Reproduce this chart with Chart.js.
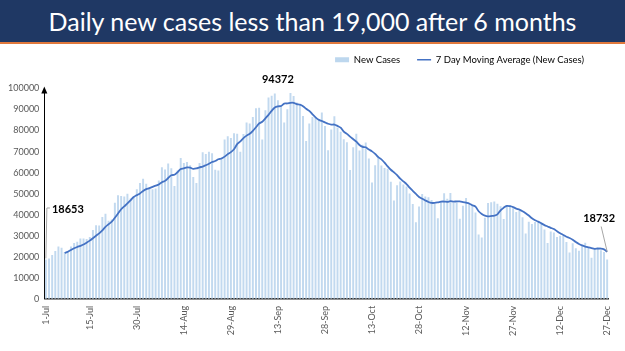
<!DOCTYPE html>
<html>
<head>
<meta charset="utf-8">
<script src="https://cdn.jsdelivr.net/npm/chart.js@4.4.1/dist/chart.umd.min.js"></script>
<style>
  html, body { margin: 0; padding: 0; background: #fff; }
  body { width: 625px; height: 351px; overflow: hidden; font-family: Lato, sans-serif; }
  .banner {
    height: 42px; line-height: 42px; background: #1f3864; color: #fff;
    border-bottom: 2px solid #e0783c; text-align: center; font-size: 25px;
  }
  .chart-box { position: relative; width: 625px; height: 307px; }
</style>
</head>
<body>
<div class="banner">Daily new cases less than 19,000 after 6 months</div>
<div class="chart-box"><canvas id="casesChart"></canvas></div>
<script>
// months on the x axis (1-Jul .. 27-Dec)
var monthNames = ['Jul', 'Aug', 'Sep', 'Oct', 'Nov', 'Dec'];
var monthDays = [31, 31, 30, 31, 30, 27];

// only these dates get a label on the axis
var tickLabels = ['1-Jul', '15-Jul', '30-Jul', '14-Aug', '29-Aug', '13-Sep', '28-Sep',
                  '13-Oct', '28-Oct', '12-Nov', '27-Nov', '12-Dec', '27-Dec'];

// daily new cases, one value per day
var newCases = [
  // Jul
  18653, 19148, 20903, 22771, 24850, 24248, 22252, 22752, 24879, 26506, 27114, 28637, 28701, 28498, 29429, 32695,
  34956, 34884, 38902, 40425, 37148, 37724, 45720, 49310, 48916, 48661, 49931, 47703, 48513, 52123, 55078,
  // Aug
  57118, 54735, 52972, 52050, 52509, 56282, 62538, 61537, 64399, 62064, 53601, 60963, 66999, 64553, 65002, 63490,
  57981, 55079, 64531, 69652, 68898, 69878, 69239, 61408, 60975, 67151, 75760, 77266, 76472, 78761, 78512,
  // Sep
  69921, 78357, 83883, 83341, 86432, 90632, 90802, 75809, 89706, 95735, 96551, 97570, 94372, 92071, 83809,
  90123, 97894, 96424, 93337, 92605, 86961, 75083, 83347, 86508, 86052, 85362, 88600, 82170, 70589, 80472,
  // Oct
  86821, 81484, 79476, 75829, 74442, 61267, 72049, 78524, 70496, 73272, 74383, 66732, 55342, 63509, 67708, 63371,
  62212, 61871, 55722, 46790, 54044, 55838, 54366, 53370, 50129, 45148, 36470, 43893, 49881, 48648, 48268,
  // Nov
  46963, 45231, 38310, 46253, 50210, 47638, 50357, 45674, 45903, 38073, 44281, 47905, 44878, 44684, 41100,
  30548, 29164, 38617, 45576, 45882, 46232, 45209, 44059, 37975, 44376, 44489, 43082, 41322, 41810, 38772,
  // Dec
  31118, 36604, 35551, 36595, 36652, 36011, 32981, 26567, 32080, 31521, 29398, 30006, 30254, 27071, 22065,
  26382, 24010, 22890, 25152, 26624, 24337, 19556, 23950, 24712, 23068, 22273, 18732
];

// y axis ticks
var yTicks = [0, 10000, 20000, 30000, 40000, 50000, 60000, 70000, 80000, 90000, 100000];

// data callouts (label text + where it sits relative to the bar)
var callouts = [
  { index: 0, text: '18653', align: 'left', dx: 6, labelAt: 42600, leader: [[0, 19200], [1, 43200], [4, 43200]] },
  { index: 74, text: '94372', align: 'center', dx: 0, labelAt: 104300 },
  { index: 179, text: '18732', align: 'center', dx: -8, labelAt: 38400, leader: [[-6, 34400], [0, 22400]] }
];

var dateLabels = [];
monthNames.forEach(function (m, i) {
  for (var d = 1; d <= monthDays[i]; d++) dateLabels.push(d + '-' + m);
});

// Excel style trailing moving average
function movingAverage(values, span) {
  return values.map(function (v, i) {
    if (i < span - 1) return null;
    var sum = 0;
    for (var k = i - span + 1; k <= i; k++) sum += values[k];
    return sum / span;
  });
}
var movingAvg = movingAverage(newCases, 7);

var calloutPlugin = {
  id: 'callouts',
  afterDraw: function (chart) {
    var ctx = chart.ctx, x = chart.scales.x, y = chart.scales.y, area = chart.chartArea;
    ctx.save();
    // arrow head on the y axis
    ctx.fillStyle = '#000';
    ctx.beginPath();
    ctx.moveTo(area.left, area.top - 2);
    ctx.lineTo(area.left - 3, area.top + 5);
    ctx.lineTo(area.left + 3, area.top + 5);
    ctx.closePath();
    ctx.fill();

    ctx.font = 'bold 11px Lato';
    ctx.textBaseline = 'middle';
    callouts.forEach(function (c) {
      var px = x.getPixelForValue(c.index);
      if (c.leader) {
        ctx.strokeStyle = '#a6a6a6';
        ctx.lineWidth = 1;
        ctx.beginPath();
        c.leader.forEach(function (p, i) {
          var lx = px + p[0], ly = y.getPixelForValue(p[1]);
          if (i === 0) ctx.moveTo(lx, ly); else ctx.lineTo(lx, ly);
        });
        ctx.stroke();
      }
      ctx.fillStyle = '#000';
      ctx.textAlign = c.align;
      ctx.fillText(c.text, px + c.dx, y.getPixelForValue(c.labelAt));
    });
    ctx.restore();
  }
};

// move the legend up and left a bit, like in the slide
var legendNudge = {
  id: 'legendNudge',
  afterLayout: function (chart) {
    var lg = chart.legend;
    lg.top -= 14; lg.bottom -= 14;
    lg.left -= 17; lg.right -= 17;
  }
};

var ctx = document.getElementById('casesChart').getContext('2d');
var casesChart = new Chart(ctx, {
  type: 'bar',
  data: {
    labels: dateLabels,
    datasets: [
      {
        type: 'line',
        label: '7 Day Moving Average (New Cases)',
        data: movingAvg,
        borderColor: '#4472c4',
        borderWidth: 1.8,
        pointRadius: 0,
        tension: 0.3,
        fill: false,
        order: 0
      },
      {
        label: 'New Cases',
        data: newCases,
        backgroundColor: '#c2d9ef',
        barPercentage: 0.62,
        categoryPercentage: 1,
        order: 1
      }
    ]
  },
  options: {
    responsive: true,
    maintainAspectRatio: false,
    animation: false,
    layout: { padding: { top: 8, right: 7, bottom: 8, left: 3 } },
    plugins: {
      tooltip: { enabled: false },
      legend: {
        position: 'top',
        align: 'end',
        labels: {
          usePointStyle: true,
          pointStyleWidth: 14,
          boxHeight: 5,
          padding: 17,
          color: '#404040',
          font: { family: 'Lato', size: 9.5 },
          generateLabels: function () {
            return [
              { text: 'New Cases', pointStyle: 'rect', fillStyle: '#bdd7ee', strokeStyle: '#bdd7ee', lineWidth: 0, datasetIndex: 1, hidden: false },
              { text: '7 Day Moving Average (New Cases)', pointStyle: 'line', fillStyle: '#4472c4', strokeStyle: '#4472c4', lineWidth: 1.5, datasetIndex: 0, hidden: false }
            ];
          }
        }
      }
    },
    scales: {
      x: {
        grid: { display: false, drawTicks: false },
        border: { display: true, color: '#262626', width: 1.5 },
        ticks: {
          autoSkip: false,
          minRotation: 90,
          maxRotation: 90,
          padding: 7,
          color: '#595959',
          font: { family: 'Lato', size: 9 },
          callback: function (value) {
            var label = this.getLabelForValue(value);
            return tickLabels.indexOf(label) >= 0 ? label : '';
          }
        }
      },
      y: {
        min: 0,
        max: 100000,
        grid: { display: false, drawTicks: false },
        border: { display: true, color: '#000', width: 1 },
        afterBuildTicks: function (axis) {
          axis.ticks = yTicks.map(function (v) { return { value: v }; });
        },
        ticks: {
          padding: 5,
          color: '#595959',
          font: { family: 'Lato', size: 9 },
          callback: function (value) { return String(value); }
        }
      }
    }
  },
  plugins: [calloutPlugin, legendNudge]
});
</script>
</body>
</html>
